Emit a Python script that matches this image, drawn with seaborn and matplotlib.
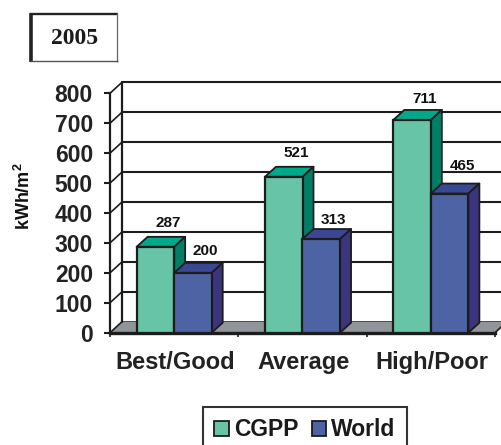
import matplotlib
matplotlib.use("Agg")
import matplotlib.pyplot as plt
import seaborn as sns
import pandas as pd
from matplotlib.patches import Polygon, Rectangle
from matplotlib.lines import Line2D
from matplotlib.transforms import Affine2D

categories = ["Best/Good", "Average", "High/Poor"]
cgpp_values = [287, 521, 711]
world_values = [200, 313, 465]
series_names = ["CGPP", "World"]
y_ticks = [0, 100, 200, 300, 400, 500, 600, 700, 800]

W, H = 502, 445
INK = "#1c1c1c"
FACE = {"CGPP": "#67C4A7", "World": "#4E63A4"}
TOP = {"CGPP": "#00A98A", "World": "#3A4894"}
SIDE = {"CGPP": "#007F66", "World": "#3B347F"}
FLOOR = "#8F9598"
WALL_DX, WALL_DY = 12, 11
BAR_DX, BAR_DY = 11, 10
# Rise of each value label above its bar, in points, per series and category
LABEL_RISE = {"CGPP": [17, 17, 15], "World": [16, 14, 20]}

sns.set_theme(style="white")
plt.rcParams["font.family"] = ["Liberation Sans", "DejaVu Sans"]
plt.rcParams["mathtext.fontset"] = "custom"
plt.rcParams["mathtext.bf"] = "Liberation Sans:bold"

table = pd.DataFrame({
    "category": categories * 2,
    "value": cgpp_values + world_values,
    "series": [series_names[0]] * 3 + [series_names[1]] * 3,
})

fig = plt.figure(figsize=(W / 100, H / 100), dpi=100, facecolor="white")
ax = fig.add_axes([110 / W, 1 - 332.7 / H, 385 / W, 239.4 / H])
ax.patch.set_alpha(0)

sns.barplot(data=table, x="category", y="value", hue="series", hue_order=series_names,
            palette=FACE, width=0.585, gap=0, saturation=1, errorbar=None,
            edgecolor=INK, linewidth=1.6, ax=ax, zorder=5, legend=False)
ax.set_xlim(-0.5, 2.5)
ax.set_ylim(0, 800)
ax.set_xlabel("")
ax.set_ylabel("kWh/m$\\mathbf{^2}$", fontsize=13, fontweight="bold", color="#111111")
ax.yaxis.set_label_coords(-0.198, 0.571)

# Axis styling
ax.set_yticks(y_ticks)
ax.tick_params(axis="y", length=4.3, width=1.5, color=INK, pad=8, left=True)
ax.tick_params(axis="x", which="major", length=0, pad=13)
ax.set_xticks([-0.5, 0.5, 1.5, 2.5], minor=True)
ax.tick_params(axis="x", which="minor", length=3, width=1.2, color=INK, bottom=True)
for lab in ax.get_yticklabels():
    lab.set(fontsize=16.5, fontweight="bold", color="#222222")
for lab in ax.get_xticklabels():
    lab.set(fontsize=17, fontweight="bold", color="#222222")
    lab.set_transform(lab.get_transform() + Affine2D().translate(1.5, 0))
for side in ("top", "right"):
    ax.spines[side].set_visible(False)
for side in ("left", "bottom"):
    ax.spines[side].set_color(INK)
ax.spines["left"].set_linewidth(1.6)
ax.spines["bottom"].set_linewidth(2.4)
ax.spines["left"].set_zorder(4)
ax.spines["bottom"].set_zorder(4)

# Pseudo-3D back wall and floor, shifted from the front plane
fig.canvas.draw()
to_px = ax.transData.transform
wall = ax.transData + Affine2D().translate(WALL_DX, WALL_DY)
x0, x1 = ax.get_xlim()
(fx0, fy0), (fx1, _) = to_px([(x0, 0), (x1, 0)])
ax.add_patch(Polygon([(fx0, fy0), (fx0 + WALL_DX, fy0 + WALL_DY),
                      (fx1 + WALL_DX, fy0 + WALL_DY), (fx1, fy0)],
                     closed=True, transform=None, facecolor=FLOOR, edgecolor="none",
                     zorder=2, clip_on=False))
for v in y_ticks:
    _, py = to_px((x0, v))
    ax.add_line(Line2D([x0, x1], [v, v], transform=wall, color=INK, lw=1.5 if v else 1.3,
                       zorder=1, clip_on=False))
    ax.add_line(Line2D([fx0, fx0 + WALL_DX], [py, py + WALL_DY], transform=None, color=INK,
                       lw=1.2, zorder=3, clip_on=False))
ax.add_line(Line2D([x0, x0], [0, 800], transform=wall, color=INK, lw=1.6, zorder=3, clip_on=False))
ax.add_line(Line2D([fx1, fx1 + WALL_DX], [fy0, fy0 + WALL_DY], transform=None, color=INK,
                   lw=1.2, zorder=3, clip_on=False))

# Top and side faces of each bar, with its value above
for order, (name, container) in enumerate(zip(series_names, ax.containers)):
    for bar, rise in zip(container, LABEL_RISE[name]):
        bar.set_zorder(5 + 2 * order)
        bx, bw, bh = bar.get_x(), bar.get_width(), bar.get_height()
        (l, b), (r, t) = to_px([(bx, 0), (bx + bw, bh)])
        ax.add_patch(Polygon([(l, t), (l + BAR_DX, t + BAR_DY), (r + BAR_DX, t + BAR_DY), (r, t)],
                             closed=True, transform=None, facecolor=TOP[name], edgecolor=INK,
                             lw=1.3, joinstyle="round", zorder=4.5 + 2 * order, clip_on=False))
        ax.add_patch(Polygon([(r, b), (r + BAR_DX, b + BAR_DY), (r + BAR_DX, t + BAR_DY), (r, t)],
                             closed=True, transform=None, facecolor=SIDE[name], edgecolor=INK,
                             lw=1.3, joinstyle="round", zorder=4.5 + 2 * order, clip_on=False))
        ax.annotate(f"{bh:.0f}", xy=(bx + bw / 2, bh), xytext=(9, rise), textcoords="offset points",
                    ha="center", va="center", fontsize=11, fontweight="bold", color="#111111",
                    zorder=20, annotation_clip=False)

# Legend frame runs past the lower edge of the figure
handles = [Rectangle((0, 0), 1, 1, facecolor=FACE[n], edgecolor=INK, lw=1.3) for n in series_names]
leg = fig.legend(handles, series_names, loc="upper left", bbox_to_anchor=(203 / W, 1 - 407 / H),
                 borderaxespad=0, ncol=2, frameon=True, fancybox=False, borderpad=0.5,
                 handlelength=0.62, handleheight=0.62, handletextpad=0.25, columnspacing=0.55,
                 prop={"family": "Liberation Sans", "weight": "bold", "size": 16.5})
leg.get_frame().set(edgecolor="#333333", linewidth=1.5, alpha=1)
for txt in leg.get_texts():
    txt.set_color("#1a1a1a")

# Year box with a heavier left and top edge
def box_edge(xs, ys, color, lw):
    fig.add_artist(Line2D([x / W for x in xs], [1 - y / H for y in ys],
                          transform=fig.transFigure, color=color, lw=lw, solid_capstyle="butt"))

box_edge([31, 31], [13, 62], "#222222", 2.6)
box_edge([30, 118], [14, 14], "#222222", 1.7)
box_edge([117.5, 117.5], [13, 62], "#666666", 0.9)
box_edge([30, 118], [61, 61], "#555555", 1.0)
fig.text(74.5 / W, 1 - 38.5 / H, "2005", ha="center", va="center", fontsize=17,
         fontweight="bold", family="Liberation Serif", color="#1a1a1a")

fig.savefig("out.png", dpi=100, facecolor="white")
